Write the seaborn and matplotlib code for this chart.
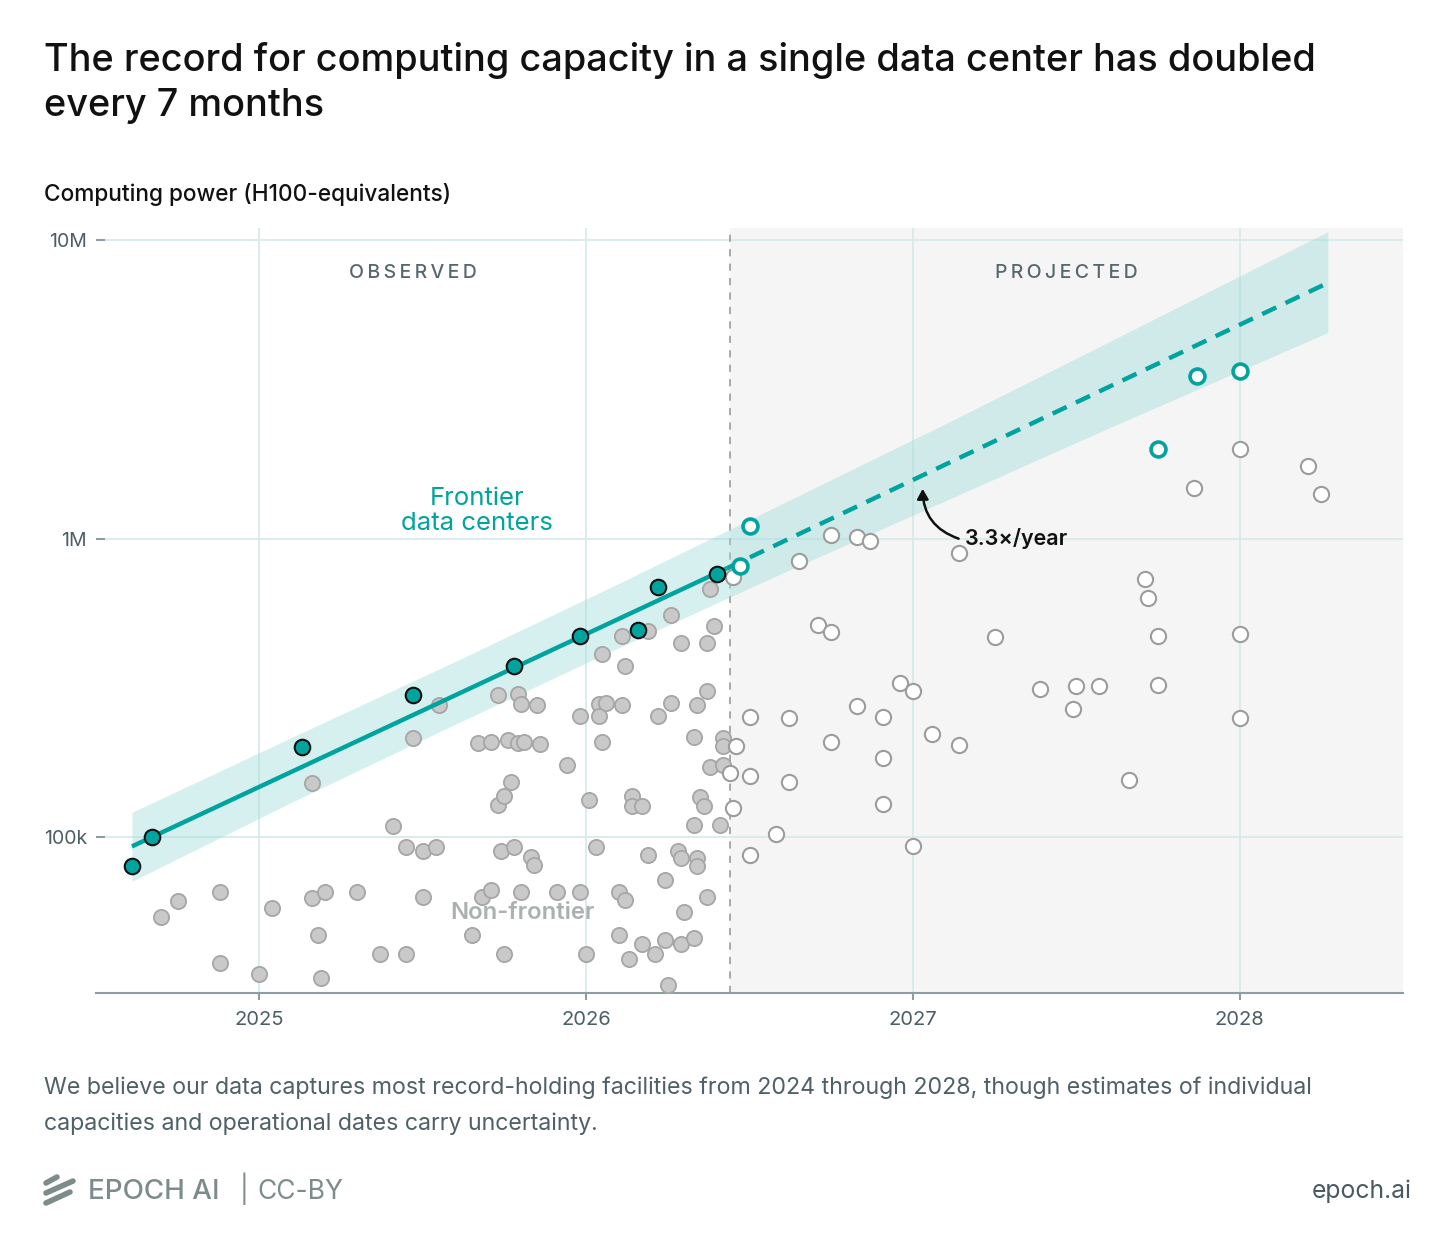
import pandas as pd
import matplotlib.pyplot as plt
import seaborn as sns
from matplotlib.lines import Line2D
from matplotlib.ticker import FixedLocator, NullLocator

# Frontier data centers (record holders), observed and projected
frontier_obs_year = [2024.61, 2024.67, 2025.13, 2025.47, 2025.78, 2025.98, 2026.16, 2026.22, 2026.40]
frontier_obs_h100 = [80e3, 100e3, 200e3, 300e3, 374e3, 471e3, 494e3, 687e3, 760e3]
frontier_proj_year = [2026.47, 2026.50, 2027.75, 2027.87, 2028.00]
frontier_proj_h100 = [813e3, 1.106e6, 2.0e6, 3.5e6, 3.66e6]

# Non-frontier data centers, observed (values in thousands of H100e)
other_obs_year = [
    2024.70, 2024.75, 2024.88, 2024.88, 2025.00, 2025.04, 2025.16, 2025.20, 2025.18, 2025.19,
    2025.16, 2025.30, 2025.37, 2025.41, 2025.45, 2025.45, 2025.47, 2025.50, 2025.50, 2025.54,
    2025.55, 2025.65, 2025.67, 2025.68, 2025.71, 2025.71, 2025.73, 2025.73, 2025.74, 2025.75,
    2025.75, 2025.76, 2025.77, 2025.78, 2025.79, 2025.79, 2025.80, 2025.80, 2025.81, 2025.83,
    2025.84, 2025.85, 2025.86, 2025.91, 2025.94, 2025.98, 2025.98, 2026.00, 2026.01, 2026.03,
    2026.04, 2026.04, 2026.05, 2026.05, 2026.06, 2026.10, 2026.10, 2026.11, 2026.11, 2026.12,
    2026.12, 2026.13, 2026.14, 2026.14, 2026.17, 2026.17, 2026.19, 2026.19, 2026.21, 2026.22,
    2026.24, 2026.24, 2026.25, 2026.26, 2026.26, 2026.28, 2026.29, 2026.29, 2026.29, 2026.30,
    2026.33, 2026.33, 2026.33, 2026.34, 2026.34, 2026.34, 2026.35, 2026.36, 2026.37, 2026.37,
    2026.37, 2026.38, 2026.38, 2026.39, 2026.41, 2026.42, 2026.42, 2026.42,
]
other_obs_k = [
    54, 61, 65.5, 37.8, 34.8, 58, 62.5, 65.5, 47, 33.7,
    152, 65.5, 40.5, 109, 92.6, 40.5, 214, 90, 63, 92.6,
    277, 47, 207, 63, 66.5, 208, 300, 128, 90, 137,
    40.5, 211, 153, 92.6, 207, 302, 279, 65.5, 208, 86,
    80.5, 277, 205, 65.5, 174, 254, 65.5, 40.5, 133, 92.6,
    279, 254, 208, 410, 281, 65.5, 47, 471, 277, 61.5,
    374, 39, 137, 127, 127, 43.8, 490, 87, 40.5, 254,
    72, 45, 32, 555, 281, 90, 447, 85, 43.8, 56,
    110, 216, 46, 277, 85, 80, 136, 127, 63, 447,
    308, 677, 172, 510, 110, 174, 214, 202,
]

# Non-frontier data centers, projected (thousands of H100e)
other_proj_year = [
    2026.45, 2026.45, 2026.46, 2026.44, 2026.75, 2026.83, 2026.87, 2026.65, 2027.14, 2026.71,
    2026.75, 2027.25, 2026.96, 2027.00, 2027.39, 2026.83, 2026.50, 2026.62, 2026.91, 2027.06,
    2027.14, 2026.75, 2026.91, 2026.50, 2026.62, 2026.91, 2026.58, 2027.00, 2026.50, 2028.00,
    2028.21, 2027.86, 2028.25, 2027.71, 2027.72, 2027.75, 2028.00, 2027.50, 2027.57, 2027.75,
    2027.49, 2028.00, 2027.66,
]
other_proj_k = [
    742, 125, 202, 164, 1030, 1010, 980, 840, 895, 513,
    486, 467, 328, 308, 313, 275, 252, 250, 252, 221,
    203, 208, 184, 160, 153, 129, 102, 93, 87, 2000,
    1750, 1480, 1410, 735, 631, 471, 478, 320, 320, 323,
    268, 250, 155,
]

# Trend (3.3x/year) and its uncertainty band
trend_year = [2024.61, 2026.43, 2028.27]
trend_h100 = [93e3, 795e3, 7.2e6]
band_year = [2024.61, 2025.1, 2025.6, 2026.1, 2026.6, 2027.1, 2027.6, 2028.27]
band_upper = [121e3, 216e3, 388e3, 708e3, 1.31e6, 2.43e6, 4.57e6, 10.7e6]
band_lower = [71e3, 131e3, 239e3, 431e3, 766e3, 1.34e6, 2.35e6, 4.91e6]
observed_end = 2026.44

year_ticks = [2025, 2026, 2027, 2028]
y_ticks = [1e5, 1e6, 1e7]
y_tick_labels = ["100k", "1M", "10M"]

TEAL = "#00a39e"
GRID = "#d7eaeb"
AXIS = "#8e9da2"
LABEL = "#4c5e65"

sns.set_theme(style="white")
plt.rcParams["font.family"] = ["Inter", "DejaVu Sans"]

W, H = 1456, 1253
fig = plt.figure(figsize=(W / 100, H / 100), dpi=100)
ax = fig.add_axes([96 / W, 1 - 993 / H, (1403 - 96) / W, (993 - 228) / H])
ax.set_yscale("log")
ax.set_xlim(2024.5, 2028.5)
ax.set_ylim(30e3, 11e6)

ax.axvspan(observed_end, 2028.5, color="#f5f5f5", lw=0, zorder=0)
ax.set_axisbelow(True)
ax.grid(True, color=GRID, lw=1.3)
ax.axvline(observed_end, color="#a3a3a3", lw=1.3, ls=(0, (4, 4)), zorder=1)

ax.fill_between(band_year, band_lower, band_upper, color="#9fdcdc", alpha=0.42, lw=0, zorder=1)

obs_other = pd.DataFrame({"year": other_obs_year, "h100": [v * 1e3 for v in other_obs_k]})
proj_other = pd.DataFrame({"year": other_proj_year, "h100": [v * 1e3 for v in other_proj_k]})
sns.scatterplot(data=obs_other, x="year", y="h100", ax=ax, s=120, color="#c9c9c9",
                edgecolor="#a6a6a6", linewidth=1.3, zorder=3)
sns.scatterplot(data=proj_other, x="year", y="h100", ax=ax, s=120, color="white",
                edgecolor="#9c9c9c", linewidth=1.5, zorder=3)

ax.plot(trend_year[:2], trend_h100[:2], color=TEAL, lw=3.2, solid_capstyle="butt", zorder=4)
ax.plot(trend_year[1:], trend_h100[1:], color=TEAL, lw=3.2, ls=(0, (3.5, 2.3)), zorder=4)

sns.scatterplot(x=frontier_obs_year, y=frontier_obs_h100, ax=ax, s=125, color=TEAL,
                edgecolor="#111111", linewidth=1.5, zorder=5)
sns.scatterplot(x=frontier_proj_year, y=frontier_proj_h100, ax=ax, s=115, color="white",
                edgecolor=TEAL, linewidth=2.6, zorder=5)

# axes styling
for side in ["top", "right", "left"]:
    ax.spines[side].set_visible(False)
ax.spines["bottom"].set_color(AXIS)
ax.spines["bottom"].set_linewidth(1.5)
ax.set_xticks(year_ticks)
ax.set_xticklabels([str(y) for y in year_ticks])
ax.yaxis.set_major_locator(FixedLocator(y_ticks))
ax.yaxis.set_minor_locator(NullLocator())
ax.set_yticklabels(y_tick_labels)
ax.tick_params(axis="x", direction="out", length=5, width=1.5, color=AXIS,
               labelsize=14.5, labelcolor=LABEL, pad=8, bottom=True)
ax.tick_params(axis="y", direction="in", length=6.5, width=1.5, color=AXIS,
               labelsize=14, labelcolor=LABEL, pad=6.5, left=True)
ax.set_xlabel("")
ax.set_ylabel("")

# region labels and annotations
ax.text((2024.5 + observed_end) / 2, 7.8e6, "\u2009".join("OBSERVED"), ha="center", va="center",
        fontsize=14, color="#56676e", fontweight="medium")
ax.text((observed_end + 2028.5) / 2, 7.8e6, "\u2009".join("PROJECTED"), ha="center", va="center",
        fontsize=14, color="#56676e", fontweight="medium")
ax.text(2025.667, 1.236e6, "Frontier\ndata centers", ha="center", va="center",
        fontsize=18.5, color=TEAL, linespacing=1.1)
ax.text(2025.804, 55.6e3, "Non-frontier", ha="center", va="center",
        fontsize=17.2, color="#abb0b0", fontweight="semibold")
ax.text(2027.16, 1.0e6, "3.3×/year", ha="left", va="center", fontsize=15.5,
        color="#111111", fontweight="semibold")
ax.annotate("", xy=(2027.03, 1.47e6), xytext=(2027.14, 1.0e6),
            arrowprops=dict(arrowstyle="-|>,head_length=0.5,head_width=0.28", color="#111111",
                            lw=1.8, connectionstyle="arc3,rad=-0.35", shrinkA=0, shrinkB=0))

# titles
fig.text(44 / W, 1 - 71 / H, "The record for computing capacity in a single data center has doubled",
         fontsize=27.3, fontweight="medium", color="#111111", va="baseline")
fig.text(44 / W, 1 - 116 / H, "every 7 months",
         fontsize=27.3, fontweight="medium", color="#111111", va="baseline")
fig.text(44 / W, 1 - 201 / H, "Computing power (H100-equivalents)",
         fontsize=16.3, fontweight="medium", color="#111111", va="baseline")

# footer
fig.text(44 / W, 1 - 1094 / H,
         "We believe our data captures most record-holding facilities from 2024 through 2028, "
         "though estimates of individual", fontsize=16.7, color="#4f6066", va="baseline")
fig.text(44 / W, 1 - 1130 / H, "capacities and operational dates carry uncertainty.",
         fontsize=16.7, color="#4f6066", va="baseline")

LOGO = "#7d8b8b"
for (x0, y0, x1, y1) in [(46, 1183, 57, 1177), (46, 1193, 73, 1181), (46, 1203, 70, 1192)]:
    fig.add_artist(Line2D([x0 / W, x1 / W], [1 - y0 / H, 1 - y1 / H], transform=fig.transFigure,
                          color=LOGO, lw=4, solid_capstyle="round"))
fig.text(88 / W, 1 - 1199 / H, "EPOCH AI", fontsize=20, fontweight="medium", color=LOGO, va="baseline")
fig.text(240 / W, 1 - 1199 / H, "|", fontsize=19, color=LOGO, va="baseline")
fig.text(257 / W, 1 - 1199 / H, "CC-BY", fontsize=19, color=LOGO, va="baseline")
fig.text(1412 / W, 1 - 1198 / H, "epoch.ai", fontsize=17.8, color="#4a5a60", va="baseline", ha="right")

fig.savefig("out.png", dpi=100, facecolor="white")
